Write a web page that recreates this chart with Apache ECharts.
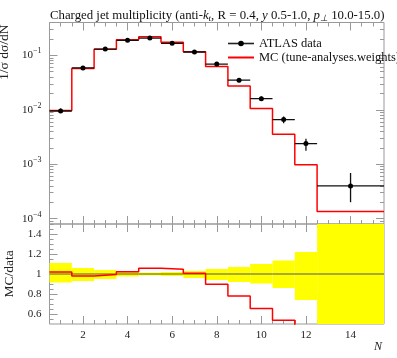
<!DOCTYPE html>
<html><head><meta charset="utf-8">
<script src="https://cdn.jsdelivr.net/npm/echarts@6/dist/echarts.min.js"></script>
<style>html,body{margin:0;padding:0;background:#fff}#c{width:397px;height:358px}</style>
</head><body><div id="c"></div>
<script>
// ---- data ----
const binLow  = [0.5,1.5,2.5,3.5,4.5,5.5,6.5,7.5,8.5,9.5,10.5,11.5,12.5];
const binHigh = [1.5,2.5,3.5,4.5,5.5,6.5,7.5,8.5,9.5,10.5,11.5,12.5,15.5];
const binCenter = [1,2,3,4,5,6,7,8,9,10,11,12,14];
const dataValues = [0.0095,0.0586,0.130,0.188,0.207,0.166,0.115,0.069,0.0349,0.0160,0.0066,0.0024,0.00040];
const dataRelErrUp   = [0.11,0.06,0.04,0.025,0.015,0.02,0.03,0.05,0.07,0.10,0.135,0.22,0.72];
const dataRelErrDown = [0.085,0.07,0.05,0.025,0.015,0.02,0.04,0.06,0.08,0.095,0.14,0.26,0.50];
const mcValues = [0.0097,0.0574,0.1295,0.192,0.219,0.174,0.116,0.062,0.0272,0.0105,0.00355,0.00098,0.000135];
const xTickLabels = [2,4,6,8,10,12,14];
const yMainTickLabels = [1e-4,1e-3,1e-2,1e-1];
const yRatioTickLabels = [0.6,0.8,1,1.2,1.4];
const dataName = 'ATLAS data';
const mcName = 'MC (tune-analyses.weights)';

// ---- derived ----
function stepLine(vals){const o=[];vals.forEach((v,i)=>{o.push([binLow[i],v]);o.push([binHigh[i],v]);});return o;}
const mcRatio = mcValues.map((v,i)=>v/dataValues[i]);
const ones = dataValues.map(()=>1);

const X0=0.5, X1=15.5, YMIN=8e-5, YMAX=0.4, RMIN=0.5, RMAX=1.5;
const xMinor=[]; for(let v=1; v<15.5; v+=0.5){ if(xTickLabels.indexOf(v)<0) xMinor.push(v); }
const yMinor=[]; for(let e=-5;e<=-1;e++){ for(let k=2;k<=9;k++){ const v=k*Math.pow(10,e); if(v>=YMIN*0.999 && v<=YMAX*1.001) yMinor.push(+v.toPrecision(3)); } }
const rMinor=[]; for(let i=11;i<30;i++){ const v=+(i*0.05).toFixed(2); if(yRatioTickLabels.indexOf(v)<0) rMinor.push(v); }

const FONT='"Liberation Serif", serif';
const tickColor='#999';
function xAx(grid,pos,vals,len,labels){
  return {type:'value',gridIndex:grid,position:pos,min:X0,max:X1,
    axisLine:{show:false},splitLine:{show:false},
    axisTick:{show:true,inside:true,length:len,customValues:vals,lineStyle:{color:tickColor,width:1}},
    axisLabel:{show:!!labels,customValues:xTickLabels,color:'#222',fontFamily:FONT,fontSize:11,margin:6}};
}
function yLog(pos,vals,len,labels){
  return {type:'log',gridIndex:0,position:pos,min:YMIN,max:YMAX,logBase:10,
    axisLine:{show:false},splitLine:{show:false},
    axisTick:{show:true,inside:true,length:len,customValues:vals,lineStyle:{color:tickColor,width:1}},
    axisLabel:{show:!!labels,customValues:yMainTickLabels,color:'#222',fontFamily:FONT,fontSize:11,margin:8,
      formatter:function(v){const e=Math.round(Math.log10(v));return '10{sup|\u2212'+(-e)+'}';},
      rich:{sup:{fontSize:8,fontFamily:FONT,color:'#222',padding:[0,0,8,0]}}}};
}
function yRat(pos,vals,len,labels){
  return {type:'value',gridIndex:1,position:pos,min:RMIN,max:RMAX,
    axisLine:{show:false},splitLine:{show:false},
    axisTick:{show:true,inside:true,length:len,customValues:vals,lineStyle:{color:tickColor,width:1}},
    axisLabel:{show:!!labels,customValues:yRatioTickLabels,color:'#222',fontFamily:FONT,fontSize:11,margin:8}};
}

const xAxes=[
  xAx(0,'bottom',xTickLabels,8,false), xAx(0,'bottom',xMinor,4,false),
  xAx(0,'top',xTickLabels,8,false), xAx(0,'top',xMinor,4,false),
  xAx(1,'bottom',xTickLabels,8,true), xAx(1,'bottom',xMinor,4,false),
  xAx(1,'top',xTickLabels,8,false), xAx(1,'top',xMinor,4,false)
];
xAxes[4].name='N';
xAxes[4].nameLocation='end';
xAxes[4].nameGap=-10;
xAxes[4].nameTextStyle={fontFamily:FONT,fontStyle:'italic',fontSize:12,color:'#222',verticalAlign:'top',padding:[17,0,0,0]};

const yAxes=[
  yLog('left',yMainTickLabels,8,true), yLog('left',yMinor,4,false),
  yLog('right',yMainTickLabels,8,false), yLog('right',yMinor,4,false),
  yRat('left',yRatioTickLabels,8,true), yRat('left',rMinor,4,false),
  yRat('right',yRatioTickLabels,8,false), yRat('right',rMinor,4,false)
];
yAxes[0].name='1/\u03c3 d\u03c3/dN';
yAxes[0].nameLocation='middle';
yAxes[0].nameRotate=90;
yAxes[0].nameGap=31;
yAxes[0].nameTextStyle={fontFamily:FONT,fontSize:13.5,color:'#222',padding:[0,0,0,142]};
yAxes[4].name='MC/data';
yAxes[4].nameLocation='middle';
yAxes[4].nameRotate=90;
yAxes[4].nameGap=31;
yAxes[4].nameTextStyle={fontFamily:FONT,fontSize:13.5,color:'#222'};

const option={
  animation:false,
  backgroundColor:'#fff',
  title:{text:'Charged jet multiplicity (anti-{i|k}{sub|t}, R = 0.4, {i|y} 0.5-1.0, {i|p}{sub|\u22a5} 10.0-15.0)',
    left:45,top:3,
    textStyle:{fontFamily:FONT,fontSize:12.8,fontWeight:'normal',color:'#111',
      rich:{i:{fontFamily:FONT,fontSize:12.8,fontStyle:'italic',color:'#111'},
            sub:{fontFamily:FONT,fontSize:9,fontStyle:'italic',color:'#111',padding:[6,0,0,0]}}}},
  legend:{orient:'vertical',left:227,top:37,itemWidth:26,itemHeight:7,itemGap:1,padding:0,
    textStyle:{fontFamily:FONT,fontSize:12.5,color:'#111'},
    data:[{name:dataName,lineStyle:{opacity:1,width:1.6,color:'#222'}},
          {name:mcName,itemStyle:{opacity:0}}]},
  grid:[{left:49.5,top:22.5,width:334.5,height:201.5,show:true,borderColor:'#999',borderWidth:1,backgroundColor:'transparent',containLabel:false,outerBoundsMode:'none'},
        {left:49.5,top:224,width:334.5,height:100,show:true,borderColor:'#999',borderWidth:1,backgroundColor:'transparent',containLabel:false,outerBoundsMode:'none'}],
  xAxis:xAxes,
  yAxis:yAxes,
  series:[
    {type:'custom',name:'band',xAxisIndex:4,yAxisIndex:4,clip:true,silent:true,z:1,
      data:binLow.map((lo,i)=>[lo,binHigh[i],1-dataRelErrDown[i],1+dataRelErrUp[i]]),
      encode:{x:[0,1],y:[2,3]},
      renderItem:function(params,api){
        const a=api.coord([api.value(0),api.value(3)]);
        const b=api.coord([api.value(1),api.value(2)]);
        const cs=params.coordSys;
        const r=echarts.graphic.clipRectByRect({x:a[0],y:a[1],width:b[0]-a[0],height:b[1]-a[1]},{x:cs.x,y:cs.y,width:cs.width,height:cs.height});
        return r?{type:'rect',shape:r,style:{fill:'#ffff00'}}:null;
      }},
    {type:'line',name:'dataRatio',xAxisIndex:4,yAxisIndex:4,data:stepLine(ones),symbol:'none',
      lineStyle:{color:'#555',width:1},z:2,silent:true},
    {type:'line',name:'mcRatio',xAxisIndex:4,yAxisIndex:4,data:stepLine(mcRatio),symbol:'none',
      lineStyle:{color:'#ff0000',width:1.5},z:3,clip:true,silent:true},
    {type:'line',name:mcName,xAxisIndex:0,yAxisIndex:0,data:stepLine(mcValues),symbol:'none',
      lineStyle:{color:'#ff0000',width:1.5},itemStyle:{color:'#ff0000'},z:3,clip:true},
    {type:'custom',name:'dataErr',xAxisIndex:0,yAxisIndex:0,clip:true,z:4,silent:true,
      data:binLow.map((lo,i)=>[lo,binHigh[i],binCenter[i],dataValues[i],dataValues[i]*(1-dataRelErrDown[i]),dataValues[i]*(1+dataRelErrUp[i])]),
      encode:{x:[0,1,2],y:[3,4,5]},
      renderItem:function(params,api){
        const l=api.coord([api.value(0),api.value(3)]);
        const h=api.coord([api.value(1),api.value(3)]);
        const t=api.coord([api.value(2),api.value(5)]);
        const b=api.coord([api.value(2),api.value(4)]);
        return {type:'group',children:[
          {type:'line',shape:{x1:l[0],y1:l[1],x2:h[0],y2:h[1]},style:{stroke:'#111',lineWidth:1.3}},
          {type:'line',shape:{x1:t[0],y1:t[1],x2:b[0],y2:b[1]},style:{stroke:'#111',lineWidth:1.3}}]};
      }},
    {type:'line',name:dataName,xAxisIndex:0,yAxisIndex:0,data:binCenter.map((c,i)=>[c,dataValues[i]]),
      symbol:'circle',symbolSize:5,showSymbol:true,itemStyle:{color:'#000'},lineStyle:{opacity:0,color:'#222'},z:5}
  ]
};
const chart=echarts.init(document.getElementById('c'),null,{renderer:'canvas'});
chart.setOption(option);
</script></body></html>
